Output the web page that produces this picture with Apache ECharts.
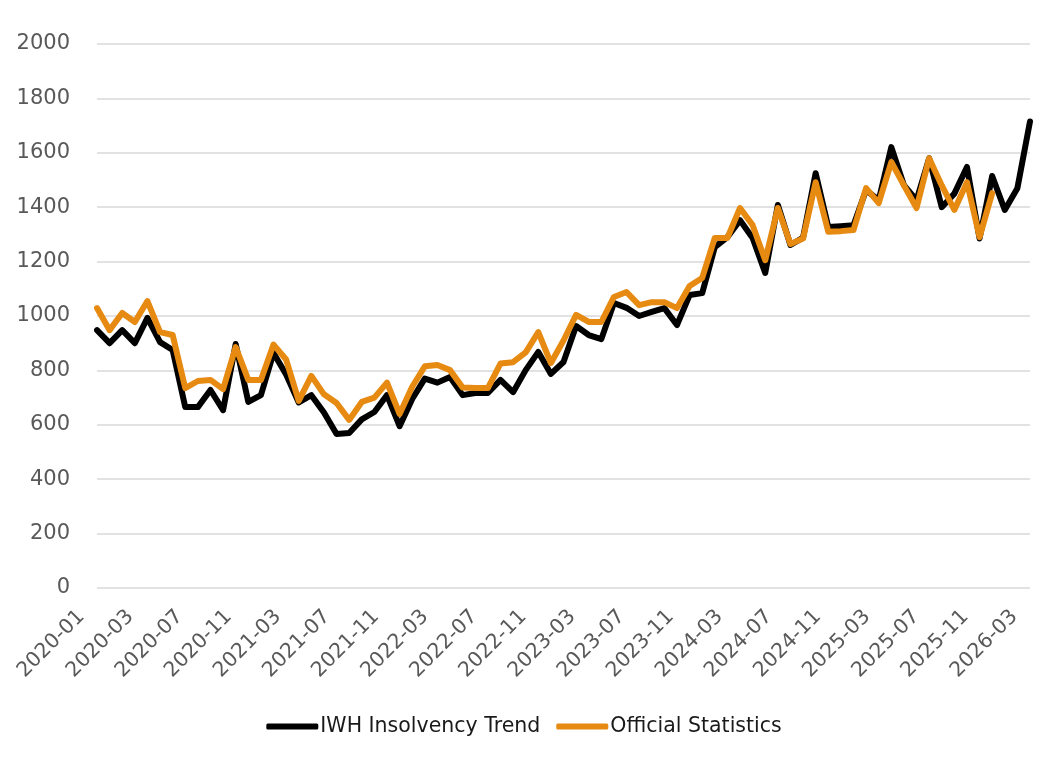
<!DOCTYPE html>
<html>
<head>
<meta charset="utf-8">
<script src="https://cdn.jsdelivr.net/npm/echarts@6/dist/echarts.min.js"></script>
<style>
html,body{margin:0;padding:0;background:#fff;}
#chart{width:1048px;height:757px;}
</style>
</head>
<body>
<div id="chart"></div>
<script>
const months = [
  '2020-01','2020-02','2020-03','2020-04','2020-05','2020-06','2020-07','2020-08','2020-09','2020-10','2020-11','2020-12',
  '2021-01','2021-02','2021-03','2021-04','2021-05','2021-06','2021-07','2021-08','2021-09','2021-10','2021-11','2021-12',
  '2022-01','2022-02','2022-03','2022-04','2022-05','2022-06','2022-07','2022-08','2022-09','2022-10','2022-11','2022-12',
  '2023-01','2023-02','2023-03','2023-04','2023-05','2023-06','2023-07','2023-08','2023-09','2023-10','2023-11','2023-12',
  '2024-01','2024-02','2024-03','2024-04','2024-05','2024-06','2024-07','2024-08','2024-09','2024-10','2024-11','2024-12',
  '2025-01','2025-02','2025-03','2025-04','2025-05','2025-06','2025-07','2025-08','2025-09','2025-10','2025-11','2025-12',
  '2026-01','2026-02','2026-03'
];
const tickLabels = ['2020-01','2020-03','2020-07','2020-11','2021-03','2021-07','2021-11','2022-03','2022-07','2022-11',
  '2023-03','2023-07','2023-11','2024-03','2024-07','2024-11','2025-03','2025-07','2025-11','2026-03'];
const iwhTrend = [
  948, 900, 948, 900, 993, 904, 875, 665, 665, 728, 654, 897, 684, 709, 864,
  785, 682, 709, 645, 566, 570, 620, 647, 709, 595, 695, 770, 755, 776, 709, 717, 717, 765, 720, 801,
  868, 787, 831, 963, 930, 915, 1048, 1030, 1000, 1015, 1029, 967, 1077, 1084, 1253, 1290, 1352, 1287, 1158, 1408, 1261, 1288, 1525,
  1327, 1330, 1334, 1463, 1426, 1621, 1481, 1426, 1580, 1400, 1450, 1548, 1285, 1515, 1390, 1470, 1715
];
const officialStats = [
  1029, 948, 1011, 978, 1055, 941, 930, 735, 761, 765, 731, 886, 765, 765, 895,
  840, 688, 780, 712, 680, 618, 684, 700, 755, 640, 740, 815, 820, 801, 737, 735, 735, 825, 830, 866,
  941, 827, 910, 1004, 978, 978, 1070, 1088, 1040, 1051, 1051, 1029, 1110, 1140, 1287, 1287, 1397, 1334, 1205, 1397, 1265, 1285, 1492,
  1310, 1312, 1316, 1470, 1415, 1566, 1480, 1397, 1580, 1480, 1390, 1492, 1290, 1452
];
const seriesNames = ['IWH Insolvency Trend', 'Official Statistics'];

const FONT = 'DejaVu Sans';
const chart = echarts.init(document.getElementById('chart'), null, {renderer: 'canvas'});
chart.setOption({
  animation: false,
  backgroundColor: '#ffffff',
  grid: {left: 97, right: 18, top: 44, bottom: 169, containLabel: false},
  legend: {
    data: seriesNames.map(n => ({name: n, icon: 'roundRect'})),
    top: 711,
    left: 'center',
    itemWidth: 52,
    itemHeight: 6,
    itemGap: 16,
    textStyle: {fontFamily: FONT, fontSize: 20.5, color: '#1a1a1a', padding: [0, 0, 0, -3]}
  },
  xAxis: [
    {
      type: 'category', data: months, boundaryGap: false,
      axisLine: {show: false}, axisTick: {show: false}, axisLabel: {show: false}, splitLine: {show: false}
    },
    {
      type: 'category', data: tickLabels, boundaryGap: false, position: 'bottom',
      axisLine: {show: false}, axisTick: {show: false}, splitLine: {show: false},
      axisLabel: {
        interval: 0, rotate: 45, margin: 10, padding: [0, 22, 0, 0],
        fontFamily: FONT, fontSize: 20.5, color: '#595959'
      }
    }
  ],
  yAxis: {
    type: 'value', min: 0, max: 2000, interval: 200,
    axisLine: {show: false}, axisTick: {show: false},
    axisLabel: {margin: 27, fontFamily: FONT, fontSize: 21, color: '#595959', formatter: v => String(v)},
    splitLine: {lineStyle: {color: '#d9d9d9', width: 1.5}}
  },
  series: [
    {
      name: seriesNames[0], type: 'line', xAxisIndex: 0, data: iwhTrend,
      showSymbol: false, symbol: 'none',
      lineStyle: {color: '#000000', width: 6, join: 'round', cap: 'round'},
      itemStyle: {color: '#000000'}
    },
    {
      name: seriesNames[1], type: 'line', xAxisIndex: 0, data: officialStats,
      showSymbol: false, symbol: 'none',
      lineStyle: {color: '#E68A12', width: 6, join: 'round', cap: 'round'},
      itemStyle: {color: '#E68A12'}
    }
  ]
});
</script>
</body>
</html>
